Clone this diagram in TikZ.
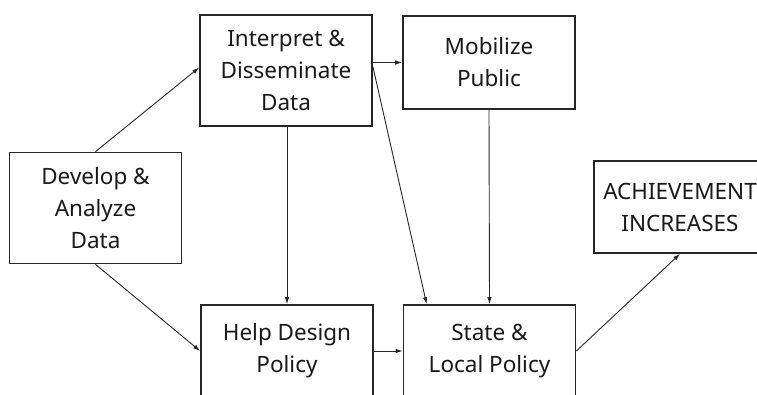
\documentclass[tikz,border=0pt]{standalone}
\usepackage{fontspec}
\setmainfont{Noto Sans}
\usetikzlibrary{arrows.meta}
\begin{document}
\begin{tikzpicture}[x=1pt,y=-1pt,
  box/.style={draw=black!85,line width=1.7pt,align=center,text=black!90,
    minimum width=172pt,font=\fontsize{22.5}{32}\selectfont,inner sep=0pt},
  link/.style={draw=black!85,line width=0.9pt,-{Latex[length=7pt,width=4.5pt]}}]
\useasboundingbox (0,0) rectangle (757,394);
\clip (0,0) rectangle (757,394);
\node[box,minimum height=111pt] (dev) at (95.5,208){Develop \&\\Analyze\\Data};
\node[box,minimum height=111pt] (interp) at (286,70.5){Interpret \&\\Disseminate\\Data};
\node[box,minimum height=93pt] (mob) at (489,62.5){Mobilize\\Public};
\node[box,minimum height=92pt] (help) at (287,351){Help Design\\Policy};
\node[box,minimum height=92pt] (state) at (489.5,351){State \&\\Local Policy};
\node[box,minimum height=92pt] (ach) at (680,207){ACHIEVEMENT\\INCREASES};
\draw[link] (dev.north) -- ([yshift=3pt]interp.west);
\draw[link] (dev.south) -- (help.west);
\draw[link] (interp.south -| help.north) -- (help.north);
\draw[link] (interp.east |- mob.west) -- (mob.west);
\draw[link] ([yshift=4pt]interp.east) -- ([xshift=24pt]state.north west);
\draw[link] (mob.south) -- (state.north);
\draw[link] (help.east) -- (state.west);
\draw[link] (state.east) -- (ach.south);
\end{tikzpicture}
\end{document}
